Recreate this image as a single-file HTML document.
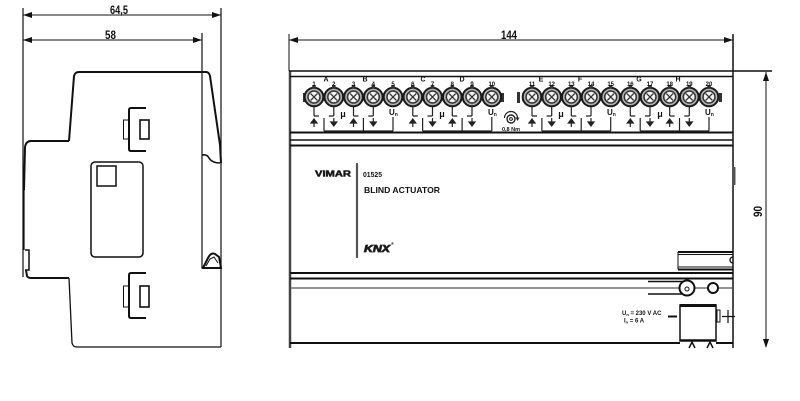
<!DOCTYPE html>
<html><head><meta charset="utf-8"><style>
html,body{margin:0;padding:0;background:#fff;}
svg{display:block;}
text{font-family:"Liberation Sans",sans-serif;font-weight:bold;fill:#111;}
.n{font-family:"Liberation Sans Narrow","Liberation Sans",sans-serif;}
</style></head><body>
<svg width="800" height="401" viewBox="0 0 800 401" xmlns="http://www.w3.org/2000/svg">
<defs>
<g id="t">
<circle r="9.3" fill="#b5b5b5" stroke="#1a1a1a" stroke-width="2"/>
<circle r="6" fill="#f2f2f2" stroke="#333" stroke-width="1.5"/>
<path d="M-3.4-3.4L3.4 3.4M-3.4 3.4L3.4-3.4" stroke="#333" stroke-width="1.3"/>
<rect x="-1.8" y="-12" width="3.6" height="3.5" fill="#333"/>
</g>
<g id="up" stroke="#222" stroke-width="1.2" fill="none">
<path d="M0 9.5V19M0 19H5"/>
<path d="M-3 26H3L0 22Z" fill="#222"/><path d="M0 26V30"/>
</g>
<g id="dn" stroke="#222" stroke-width="1.2" fill="none">
<path d="M0 9.5V19M0 19H-5"/>
<path d="M0 21V25"/><path d="M-3 25H3L0 29Z" fill="#222"/>
</g>
</defs>

<!-- ================= LEFT SIDE VIEW ================= -->
<g stroke="#111" fill="none">
<!-- dimension 64,5 -->
<line x1="23" y1="15" x2="221" y2="15" stroke-width="1"/>
<line x1="23" y1="40" x2="202" y2="40" stroke-width="1"/>
<line x1="23" y1="8" x2="23" y2="277" stroke-width="1.2"/>
<line x1="221" y1="8" x2="221" y2="347" stroke-width="1.2"/>
<line x1="202" y1="33" x2="202" y2="268" stroke-width="1.2"/>
<!-- body outline -->
<path d="M69 141L74 76Q75 72 79 72L206 72Q209 72 210 76L220 145L221 163" stroke-width="2"/>
<path d="M69 141L31 141Q26 141 25 147L24 190" stroke-width="2"/>
<path d="M24 190L24 250" stroke-width="1.2"/>
<path d="M25 250H29V270H25" stroke-width="1.5"/>
<path d="M26 270L27 276Q28 278 31 278L69 278" stroke-width="2"/>
<path d="M69 278L72 343Q73 347 77 347L221 347" stroke-width="1.3"/>
<path d="M202 155Q207 154 209 158Q212 163 220 163" stroke-width="1.6"/>
<!-- latch -->
<path d="M203 268L208 258Q211 252 215 254L219 257L221 268Z" stroke-width="2"/>
<path d="M206 266L210 259L214 257L218 263" stroke-width="1"/>
<!-- clips -->
<path d="M146 108H131Q129 108 129 110V149Q129 151 131 151H146" stroke-width="2"/>
<rect x="123.5" y="120" width="5" height="19" stroke-width="1"/>
<rect x="140" y="120" width="9" height="19" stroke-width="1.6"/>
<path d="M146 273H131Q129 273 129 275V316Q129 318 131 318H146" stroke-width="2"/>
<rect x="123.5" y="286" width="5" height="21" stroke-width="1"/>
<rect x="140" y="286" width="9" height="21" stroke-width="1.6"/>
<!-- label window -->
<rect x="91" y="162" width="52" height="95" rx="4" stroke-width="1.5"/>
<rect x="97" y="166" width="19" height="20" stroke-width="1.5"/>
</g>
<g fill="#111">
<polygon points="23,15 32,12 32,18"/><polygon points="221,15 212,12 212,18"/>
<polygon points="23,40 32,37 32,43"/><polygon points="202,40 193,37 193,43"/>
</g>
<text class="n" x="110" y="14" font-size="12" textLength="18" lengthAdjust="spacingAndGlyphs">64,5</text>
<text class="n" x="105" y="39" font-size="12" textLength="11" lengthAdjust="spacingAndGlyphs">58</text>

<!-- ================= FRONT VIEW ================= -->
<g stroke="#111" fill="none">
<line x1="289" y1="40" x2="733" y2="40" stroke-width="1"/>
<line x1="289" y1="34" x2="289" y2="71" stroke-width="1"/>
<line x1="733" y1="34" x2="733" y2="348" stroke-width="1.5"/>
<line x1="290" y1="71" x2="290" y2="348" stroke="#444" stroke-width="2.5"/>
<line x1="289" y1="71" x2="772" y2="71" stroke-width="1.5"/>
<line x1="290" y1="76.5" x2="733" y2="76.5" stroke-width="1.5"/>
<line x1="290" y1="132.5" x2="733" y2="132.5" stroke-width="2"/>
<line x1="290" y1="140" x2="733" y2="140" stroke-width="1.5"/>
<line x1="290" y1="145.5" x2="733" y2="145.5" stroke-width="2"/>
<line x1="290" y1="273" x2="733" y2="273" stroke-width="2"/>
<line x1="290" y1="278.5" x2="733" y2="278.5" stroke-width="2"/>
<line x1="290" y1="288" x2="733" y2="288" stroke="#555" stroke-width="1.3"/>
<line x1="290" y1="343" x2="680" y2="343" stroke-width="2"/>
<line x1="716" y1="343" x2="733" y2="343" stroke-width="2"/>
<!-- dim 90 -->
<line x1="766" y1="72" x2="766" y2="347" stroke-width="1"/>
</g>
<g fill="#111">
<polygon points="289,40 298,37 298,43"/><polygon points="733,40 724,37 724,43"/>
<polygon points="766,72 763,81 769,81"/><polygon points="766,348 763,339 769,339"/>
</g>
<text class="n" x="501" y="39" font-size="12" textLength="16" lengthAdjust="spacingAndGlyphs">144</text>
<text class="n" x="0" y="0" font-size="12" textLength="11" lengthAdjust="spacingAndGlyphs" transform="translate(762,217) rotate(-90)">90</text>
<rect x="732" y="167" width="3.5" height="18" fill="#555"/>

<!-- terminal strips -->
<rect x="304" y="93" width="200" height="8" fill="#999"/>
<rect x="522" y="93" width="199" height="8" fill="#999"/>
<rect x="303" y="93" width="4" height="9" fill="#333"/>
<rect x="501" y="93" width="3" height="9" fill="#333"/>
<rect x="517" y="92" width="3" height="11" fill="#333"/>
<rect x="719" y="93" width="3" height="9" fill="#333"/>
<g transform="translate(0,97)">
<use href="#t" x="314"/><use href="#t" x="333.8"/><use href="#t" x="353.5"/><use href="#t" x="373.3"/><use href="#t" x="393"/>
<use href="#t" x="412.8"/><use href="#t" x="432.5"/><use href="#t" x="452.3"/><use href="#t" x="472"/><use href="#t" x="491.8"/>
<use href="#t" x="532"/><use href="#t" x="551.7"/><use href="#t" x="571.3"/><use href="#t" x="591"/><use href="#t" x="610.7"/>
<use href="#t" x="630.3"/><use href="#t" x="650"/><use href="#t" x="669.7"/><use href="#t" x="689.3"/><use href="#t" x="709"/>
<use href="#up" x="314"/><use href="#dn" x="333.8"/><use href="#up" x="353.5"/><use href="#dn" x="373.3"/>
<use href="#up" x="412.8"/><use href="#dn" x="432.5"/><use href="#up" x="452.3"/><use href="#dn" x="472"/>
<use href="#up" x="532"/><use href="#dn" x="551.7"/><use href="#up" x="571.3"/><use href="#dn" x="591"/>
<use href="#up" x="630.3"/><use href="#dn" x="650"/><use href="#up" x="669.7"/><use href="#dn" x="689.3"/>
</g>
<g stroke="#222" stroke-width="1.2" fill="none">
<path d="M324 118V131M363.4 118V131M393 117V131M324 131H393"/>
<path d="M422.6 118V131M462.1 118V131M491.8 117V131M422.6 131H491.8"/>
<path d="M541.9 118V131M581.2 118V131M610.7 117V131M541.9 131H610.7"/>
<path d="M640.2 118V131M679.5 118V131M709 117V131M640.2 131H709"/>
</g>
<!-- numbers -->
<g font-size="6" text-anchor="middle">
<text x="314" y="86">1</text><text x="333.8" y="86">2</text><text x="353.5" y="86">3</text><text x="373.3" y="86">4</text><text x="393" y="86">5</text>
<text x="412.8" y="86">6</text><text x="432.5" y="86">7</text><text x="452.3" y="86">8</text><text x="472" y="86">9</text><text x="491.8" y="86">10</text>
<text x="532" y="86">11</text><text x="551.7" y="86">12</text><text x="571.3" y="86">13</text><text x="591" y="86">14</text><text x="610.7" y="86">15</text>
<text x="630.3" y="86">16</text><text x="650" y="86">17</text><text x="669.7" y="86">18</text><text x="689.3" y="86">19</text><text x="709" y="86">20</text>
</g>
<g font-size="7" text-anchor="middle">
<text x="326" y="81.5">A</text><text x="365" y="81.5">B</text><text x="423" y="81.5">C</text><text x="462" y="81.5">D</text>
<text x="541" y="81.5">E</text><text x="580" y="81.5">F</text><text x="639" y="81.5">G</text><text x="678" y="81.5">H</text>
</g>
<g font-size="9" text-anchor="middle">
<text x="343" y="117">μ</text><text x="442" y="117">μ</text><text x="561" y="117">μ</text><text x="660" y="117">μ</text>
</g>
<g font-size="8">
<text x="389" y="115">U<tspan font-size="5" dy="1">n</tspan></text>
<text x="488" y="115">U<tspan font-size="5" dy="1">n</tspan></text>
<text x="607" y="115">U<tspan font-size="5" dy="1">n</tspan></text>
<text x="705" y="115">U<tspan font-size="5" dy="1">n</tspan></text>
</g>
<!-- torque symbol -->
<g stroke="#222" fill="none">
<circle cx="511" cy="119" r="4" stroke-width="1.4"/>
<circle cx="511" cy="119" r="1.4" stroke-width="1"/>
<path d="M504.5 118A6.5 6.5 0 0 1 517.5 118" stroke-width="1.2"/>
</g>
<path d="M515.5 117.5L519.5 117.5L517.5 121Z" fill="#222"/>
<text x="511" y="131" font-size="5.5" text-anchor="middle">0,8 Nm</text>

<!-- middle label -->
<text x="315" y="176.5" font-size="8.5" textLength="36" lengthAdjust="spacingAndGlyphs" fill="#555" stroke="#222" stroke-width="0.5">VIMAR</text>
<line x1="357" y1="164" x2="357" y2="257" stroke="#555" stroke-width="2.2" stroke-linecap="round"/>
<text x="363" y="177" font-size="7" textLength="19" lengthAdjust="spacingAndGlyphs">01525</text>
<text x="364" y="193" font-size="8.5" textLength="76" lengthAdjust="spacingAndGlyphs">BLIND ACTUATOR</text>
<text x="364" y="252" font-size="10" font-style="italic" textLength="26" lengthAdjust="spacingAndGlyphs" fill="#fff" stroke="#222" stroke-width="0.8">KNX</text>
<text x="391" y="245" font-size="4">®</text>

<!-- rail -->
<g stroke="#111" fill="none">
<line x1="678" y1="252" x2="733" y2="252" stroke-width="2"/>
<line x1="678" y1="254.5" x2="733" y2="254.5" stroke-width="1"/>
<line x1="678" y1="267" x2="733" y2="267" stroke-width="1"/>
<line x1="678" y1="269.5" x2="733" y2="269.5" stroke-width="2"/>
<line x1="678" y1="252" x2="678" y2="269.5" stroke-width="1"/>
<path d="M733 257A3 3 0 0 0 733 263" stroke-width="1.3"/>
<!-- pin & circles -->
<line x1="648" y1="281.5" x2="684" y2="281.5" stroke-width="1.5"/>
<line x1="648" y1="294" x2="684" y2="294" stroke-width="1.5"/>
<circle cx="687" cy="288" r="7.5" fill="#fff" stroke-width="2"/>
<circle cx="687" cy="289" r="2" stroke-width="1"/>
<circle cx="713" cy="288" r="5" fill="#fff" stroke-width="2"/>
<!-- box -->
<rect x="680" y="305" width="36" height="36" fill="#fff" stroke-width="1.5"/>
<line x1="680" y1="305.5" x2="716" y2="305.5" stroke-width="3"/>
<line x1="680" y1="340" x2="716" y2="340" stroke-width="1.5"/>
<line x1="668" y1="316.5" x2="677" y2="316.5" stroke-width="2"/>
<rect x="717" y="310" width="3" height="12" stroke-width="1"/>
<path d="M722 316.5H735M728 310V323" stroke-width="1.2"/>
<path d="M689 348L692 342L695 348M707 348L710 342L713 348" stroke-width="1.5"/>
</g>
<text x="622" y="315" font-size="6">U<tspan font-size="4" dy="1">n</tspan><tspan dy="-1"> = 230 V AC</tspan></text>
<text x="624" y="322.5" font-size="6">I<tspan font-size="4" dy="1">n</tspan><tspan dy="-1"> = 6 A</tspan></text>
</svg>
</body></html>
